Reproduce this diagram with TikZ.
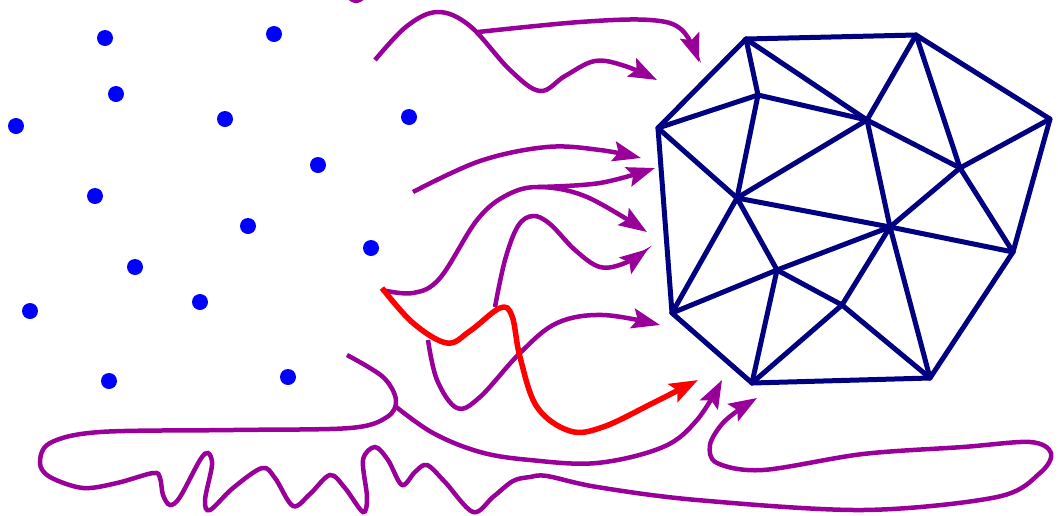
\documentclass[tikz,border=0pt]{standalone}
\usetikzlibrary{arrows.meta}
\definecolor{pp}{RGB}{153,0,153}
\definecolor{nv}{RGB}{0,0,128}
\definecolor{dotblue}{RGB}{0,0,255}
\definecolor{rd}{RGB}{255,0,0}
\tikzset{
  pcurve/.style={draw=pp,line width=4.5pt},
  rcurve/.style={draw=rd,line width=5.5pt},
  tipp/.style={-{Stealth[length=28pt,width=20pt,inset=5pt]}},
  mesh/.style={draw=nv,line width=5pt,line join=round,line cap=round},
  pt/.style={fill=dotblue,circle,inner sep=0pt,minimum size=16pt},
}
\begin{document}
\begin{tikzpicture}[x=1pt,y=-1pt]
\useasboundingbox (0,0) rectangle (1058,515);
% dots
\foreach \i/\p in {1/{(105,38)},2/{(274,34)},3/{(116,94)},4/{(16,126)},5/{(225,119)},6/{(409,117)},7/{(318,165)},8/{(95,196)},9/{(248,226)},10/{(371,248)},11/{(135,267)},12/{(200,302)},13/{(30,311)},14/{(109,381)},15/{(288,377)}}
  \node[pt] (d\i) at \p {};
% mesh vertices
\coordinate (A) at (746,39);
\coordinate (B) at (916,35);
\coordinate (C) at (1050,119);
\coordinate (D) at (1013,252);
\coordinate (E) at (930,378);
\coordinate (F) at (752,383);
\coordinate (G) at (672,313);
\coordinate (H) at (658,128);
\coordinate (I) at (758,95);
\coordinate (J) at (867,120);
\coordinate (K) at (960,168);
\coordinate (L) at (737,198);
\coordinate (M) at (890,227);
\coordinate (N) at (777,270);
\coordinate (O) at (842,305);
\draw[mesh] (A)--(B)--(C)--(D)--(E)--(F)--(G)--(H)--cycle;
\foreach \u/\v in {A/I,A/J,I/H,I/J,I/L,J/B,J/K,J/L,J/M,B/K,K/C,K/D,K/M,H/L,L/M,L/G,L/N,M/D,M/N,M/O,M/E,N/G,N/F,N/O,O/F,O/E}
  \draw[mesh] (\u)--(\v);
% tiny arc at top
\draw[pcurve] plot[smooth,tension=0.8] coordinates {(347,-5) (356,1) (366,-5)};
% curve 1
\draw[pcurve,tipp] plot[smooth,tension=0.6] coordinates {(375,60) (407,26) (438,12) (470,26) (510,70) (540,91) (565,76) (595,61) (625,66) (657,80)};
% curve 2
\draw[pcurve,tipp] plot[smooth,tension=0.6] coordinates {(478,32) (580,22) (650,20) (682,30) (699,62)};
% curve 3
\draw[pcurve,tipp] plot[smooth,tension=0.6] coordinates {(413,192) (480,161) (547,147) (600,150) (641,158)};
% curve 4a
\draw[pcurve,tipp] plot[smooth,tension=0.6] coordinates {(382,290) (413,293) (440,278) (477,220) (507,195) (540,187) (587,197) (647,232)};
% curve 4b
\draw[pcurve,tipp] plot[smooth,tension=0.6] coordinates {(538,187) (600,183) (655,168)};
% curve 5
\draw[pcurve,tipp] plot[smooth,tension=0.6] coordinates {(495,307) (505,260) (518,226) (533,216) (550,224) (575,250) (600,267) (625,263) (648,249)};
% curve 6
\draw[pcurve,tipp] plot[smooth,tension=0.6] coordinates {(428,340) (437,380) (457,408) (480,397) (520,353) (557,323) (603,315) (660,325)};
% red curve
\draw[rcurve,tipp] plot[smooth,tension=0.6] coordinates {(382,288) (413,323) (447,343) (470,331) (500,308) (512,316) (520,357) (537,407) (570,431) (603,427) (653,403) (698,380)};
% curve 7 (loop)
\draw[pcurve,tipp] plot[smooth,tension=0.55] coordinates {(347,355) (383,377) (396,400) (387,417) (350,428) (233,430) (100,432) (50,443) (40,463) (50,477) (83,488) (117,483) (153,473) (160,478) (163,495) (170,505) (180,497) (200,460) (208,453) (212,465) (205,500) (210,510) (233,488) (262,468) (275,478) (293,506) (310,494) (330,475) (345,488) (363,512) (367,497) (363,460) (375,447) (388,460) (402,485) (415,472) (427,465) (445,482) (473,512) (493,497) (513,481) (530,477) (547,476) (597,487) (697,500) (863,510) (997,497) (1040,473) (1051,453) (1030,442) (963,447) (863,454) (763,470) (717,463) (710,445) (722,424) (740,409) (757,398)};
% curve 8
\draw[pcurve,tipp] plot[smooth,tension=0.6] coordinates {(395,406) (433,433) (480,452) (530,460) (597,463) (663,447) (697,420) (722,380)};
\end{tikzpicture}
\end{document}
